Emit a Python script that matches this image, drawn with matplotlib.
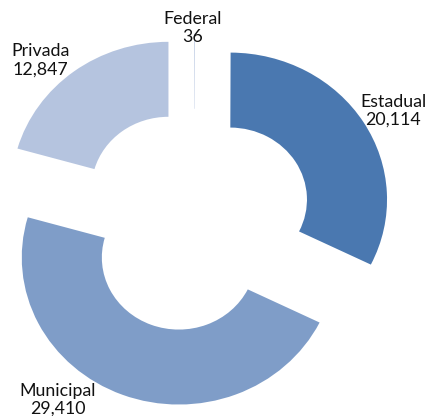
# Donut chart: schools by administrative type
import matplotlib.pyplot as plt

categories = ['Federal', 'Estadual', 'Municipal', 'Privada']
values = [36, 20114, 29410, 12847]
colors = ['#9FB3D6', '#4A78B0', '#7F9DC8', '#B5C4DF']

# label anchor points (data units, pie radius = 1)
label_pos = [(-0.01, 1.31), (1.27, 0.745), (-0.87, -1.22), (-0.98, 1.09)]

fig = plt.figure(figsize=(4.29, 4.16), dpi=100)
ax = fig.add_axes([0, 0, 1, 1])

ax.pie(values, colors=colors, startangle=90, counterclock=False,
       explode=[0.27] * len(values), radius=1.0,
       wedgeprops=dict(width=0.51, linewidth=0))

# the reference is slightly stretched horizontally
ax.set_aspect('auto')
ax.set_xlim(-194 / 157, (429 - 194) / 157)
ax.set_ylim(-(416 - 220.5) / 147, 220.5 / 147)
ax.axis('off')

for name, val, (x, y) in zip(categories, values, label_pos):
    ax.text(x, y, f'{name}\n{val:,}', ha='center', va='center',
            fontsize=12.8, family='Lato', linespacing=1.15, color='#111111')

fig.savefig('out.png', dpi=100)
